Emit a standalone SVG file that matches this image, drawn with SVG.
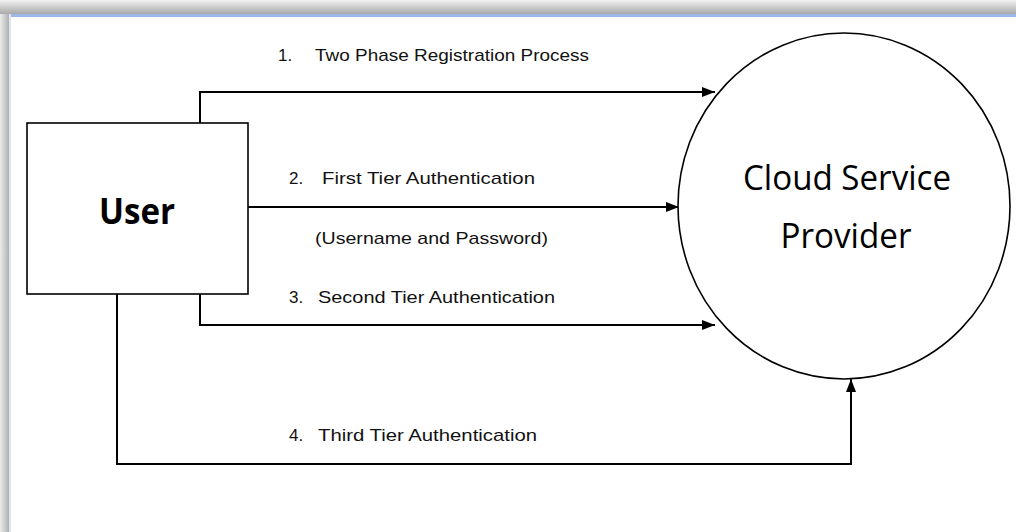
<svg xmlns="http://www.w3.org/2000/svg" width="1016" height="532" viewBox="0 0 1016 532">
  <defs>
    <linearGradient id="topg" x1="0" y1="0" x2="0" y2="1">
      <stop offset="0" stop-color="#f2f2f2"/>
      <stop offset="1" stop-color="#a9a9a9"/>
    </linearGradient>
    <linearGradient id="leftg" x1="0" y1="0" x2="1" y2="0">
      <stop offset="0" stop-color="#ececec"/>
      <stop offset="1" stop-color="#b0b0b0"/>
    </linearGradient>
    <marker id="arr" markerWidth="14" markerHeight="10" refX="13" refY="5" orient="auto" markerUnits="userSpaceOnUse">
      <path d="M0,0 L13,5 L0,10 Z" fill="#000"/>
    </marker>
    <style>
      .lbl { font-family: "Liberation Sans", Arial, sans-serif; font-size: 17px; fill: #111; }
      .big { font-family: "Open Sans", "Liberation Sans", sans-serif; font-size: 35px; fill: #000; }
      .conn { fill: none; stroke: #000; stroke-width: 2; }
      .shape { fill: #fff; stroke: #000; stroke-width: 1.6; }
    </style>
  </defs>
  <rect width="1016" height="532" fill="#fff"/>
  <rect x="0" y="0" width="1016" height="14" fill="url(#topg)"/>
  <rect x="0" y="14" width="9" height="518" fill="url(#leftg)"/>
  <rect x="9" y="14" width="1007" height="3" fill="#9bb9e6"/>
  <rect x="9" y="14" width="2" height="518" fill="#dfe6f3"/>

  <g id="connectors">
    <polyline class="conn" points="200,123 200,92 715,92" marker-end="url(#arr)"/>
    <polyline class="conn" points="248,207 679,207" marker-end="url(#arr)"/>
    <polyline class="conn" points="200,294 200,325 715,325" marker-end="url(#arr)"/>
    <polyline class="conn" points="117,294 117,464 851,464 851,379" marker-end="url(#arr)"/>
  </g>

  <g id="user">
    <rect class="shape" x="27" y="123" width="221" height="171"/>
    <text class="big" x="137" y="224" text-anchor="middle" font-weight="bold" textLength="76" lengthAdjust="spacingAndGlyphs">User</text>
  </g>

  <g id="csp">
    <ellipse class="shape" cx="844" cy="206" rx="166" ry="173"/>
    <text class="big" x="847" y="190" text-anchor="middle" textLength="208" lengthAdjust="spacingAndGlyphs">Cloud Service</text>
    <text class="big" x="846" y="248" text-anchor="middle" textLength="131" lengthAdjust="spacingAndGlyphs">Provider</text>
  </g>

  <g id="labels">
    <text class="lbl" y="61"><tspan x="278">1.</tspan><tspan x="315" textLength="274" lengthAdjust="spacingAndGlyphs">Two Phase Registration Process</tspan></text>
    <text class="lbl" y="184"><tspan x="289">2.</tspan><tspan x="322" textLength="213" lengthAdjust="spacingAndGlyphs">First Tier Authentication</tspan></text>
    <text class="lbl" x="315" y="244" textLength="233" lengthAdjust="spacingAndGlyphs">(Username and Password)</text>
    <text class="lbl" y="303"><tspan x="289">3.</tspan><tspan x="318" textLength="237" lengthAdjust="spacingAndGlyphs">Second Tier Authentication</tspan></text>
    <text class="lbl" y="441"><tspan x="289">4.</tspan><tspan x="318" textLength="219" lengthAdjust="spacingAndGlyphs">Third Tier Authentication</tspan></text>
  </g>
</svg>
